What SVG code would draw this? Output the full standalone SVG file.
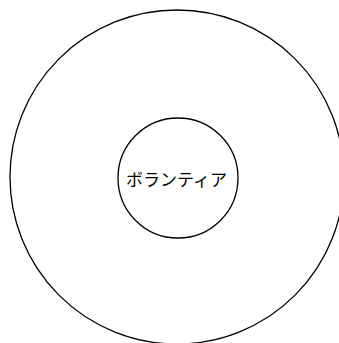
<svg xmlns="http://www.w3.org/2000/svg" width="339" height="343" viewBox="0 0 339 343">
<style>
.c{fill:none;stroke:#000;stroke-width:1.3}
.t{font-family:"Noto Sans CJK JP","Noto Sans",sans-serif;font-size:17px;fill:#000;text-anchor:middle}
</style>
<rect width="339" height="343" fill="#fff"/>
<g id="outer"><circle class="c" cx="177" cy="177" r="167"/></g>
<g id="volunteer"><circle class="c" cx="178" cy="178" r="60"/><text class="t" x="176.5" y="185.5">ボランティア</text></g>
<g id="connectors"></g>
</svg>
